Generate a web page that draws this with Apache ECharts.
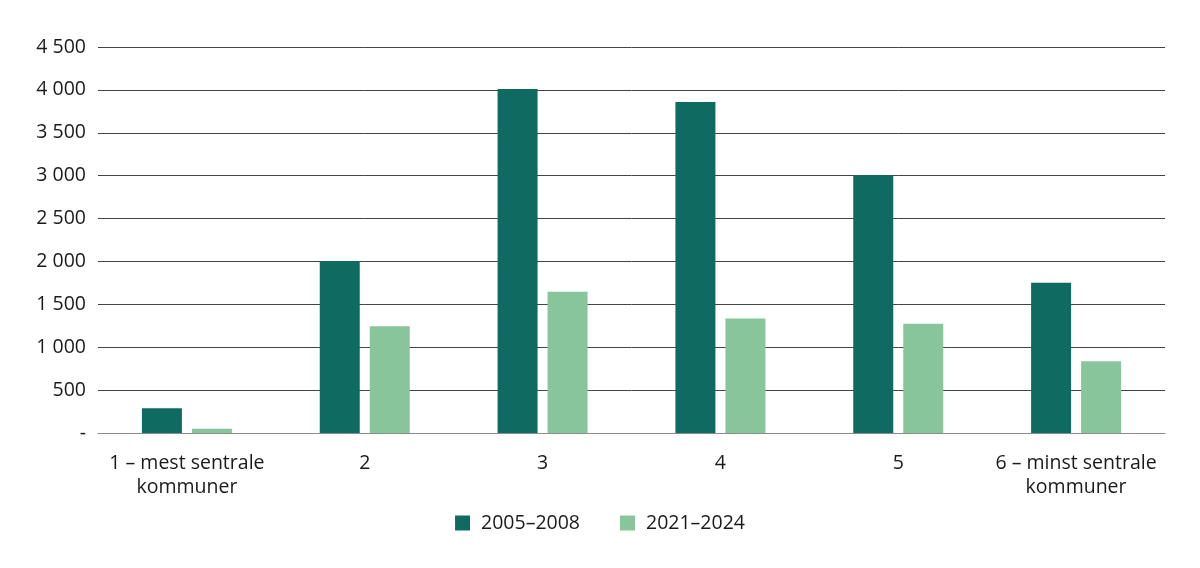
<!DOCTYPE html>
<html><head><meta charset="utf-8">
<script src="https://cdn.jsdelivr.net/npm/echarts@6/dist/echarts.min.js"></script>
<style>html,body{margin:0;padding:0;background:#fff}#c{width:1200px;height:568px}</style>
</head><body><div id="c"></div>
<script>
const categories = ['1 – mest sentrale\nkommuner', '2', '3', '4', '5', '6 – minst sentrale\nkommuner'];
const seriesNames = ['2005–2008', '2021–2024'];
const values2005 = [288, 2005, 4010, 3858, 3005, 1752];
const values2021 = [51, 1245, 1647, 1335, 1275, 837];
const yTicks = [0, 500, 1000, 1500, 2000, 2500, 3000, 3500, 4000, 4500];

const fmt = v => v === 0 ? '-' : String(v).replace(/\B(?=(\d{3})+(?!\d))/g, '\u00a0');
const font = '"Open Sans", "Noto Sans", sans-serif';
const fs = 19.5;
const chart = echarts.init(document.getElementById('c'));
chart.setOption({
  animation: false,
  textStyle: { fontFamily: font },
  grid: { left: 98, right: 35, top: 47, bottom: 135, containLabel: false },
  legend: {
    data: seriesNames, top: 508, left: 'center', itemWidth: 15, itemHeight: 15, itemGap: 40,
    icon: 'rect', textStyle: { fontSize: fs, color: '#1a1a1a', fontFamily: font, padding: [0, 0, 0, 6] }
  },
  xAxis: {
    type: 'category', data: categories,
    axisTick: { show: false },
    axisLine: { lineStyle: { color: '#8c8c8c', width: 1 } },
    axisLabel: { fontSize: fs, color: '#1a1a1a', margin: 18, lineHeight: 24, interval: 0 }
  },
  yAxis: {
    type: 'value', min: yTicks[0], max: yTicks[yTicks.length - 1], interval: 500,
    axisLine: { show: false }, axisTick: { show: false },
    splitLine: { lineStyle: { color: '#444', width: 1 } },
    axisLabel: { fontSize: fs, color: '#1a1a1a', margin: 12, formatter: fmt }
  },
  series: [
    { name: seriesNames[0], type: 'bar', data: values2005, barWidth: 40, barGap: '25%', itemStyle: { color: '#0f6b62' } },
    { name: seriesNames[1], type: 'bar', data: values2021, barWidth: 40, barGap: '25%', itemStyle: { color: '#88c59a' } }
  ]
});
</script></body></html>
